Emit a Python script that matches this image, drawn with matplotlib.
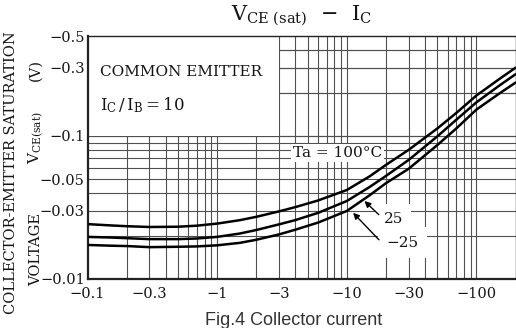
import numpy as np
import matplotlib
matplotlib.use("Agg")
import matplotlib.pyplot as plt
from matplotlib.patches import Rectangle
from matplotlib.ticker import FixedLocator, NullLocator

# collector current (A, shown with minus sign) and VCE(sat) (V)
ic = [0.1, 0.15, 0.2, 0.3, 0.5, 0.7, 1, 1.5, 2, 3, 4, 6, 10, 15, 20, 30, 50, 70, 100, 150, 200]
vce_100 = [0.0242, 0.0237, 0.0234, 0.0231, 0.0232, 0.0236, 0.0244, 0.0258, 0.0272, 0.0297, 0.0318,
           0.0354, 0.0419, 0.0522, 0.0627, 0.0800, 0.113, 0.145, 0.192, 0.250, 0.300]
vce_25 = [0.0197, 0.0195, 0.0193, 0.0190, 0.0190, 0.0192, 0.0197, 0.0208, 0.0220, 0.0241, 0.0258,
          0.0290, 0.0351, 0.0440, 0.0525, 0.0680, 0.0995, 0.130, 0.172, 0.225, 0.270]
vce_m25 = [0.0173, 0.0171, 0.0170, 0.0167, 0.0168, 0.0169, 0.0172, 0.0179, 0.0188, 0.0205, 0.0221,
           0.0248, 0.0299, 0.0385, 0.0467, 0.0590, 0.0865, 0.113, 0.153, 0.198, 0.236]

x_ticks = [0.1, 0.3, 1, 3, 10, 30, 100]
x_labels = ["\u22120.1", "\u22120.3", "\u22121", "\u22123", "\u221210", "\u221230", "\u2212100"]
y_ticks = [0.01, 0.03, 0.05, 0.1, 0.3, 0.5]
y_labels = ["\u22120.01", "\u22120.03", "\u22120.05", "\u22120.1", "\u22120.3", "\u22120.5"]

plt.rcParams['font.family'] = ['DejaVu Serif']
plt.rcParams['mathtext.fontset'] = 'dejavuserif'
ink = '#151515'

fig = plt.figure(figsize=(5.16, 3.28), dpi=100)
ax = fig.add_axes([87.5 / 516, 49 / 328, 428 / 516, 243 / 328])
ax.set_xscale('log')
ax.set_yscale('log')
ax.set_xlim(0.1, 200)
ax.set_ylim(0.01, 0.5)

# grid lines (1..9 in each decade)
gx = [m * 10.0 ** e for e in range(-1, 3) for m in range(1, 10)]
gy = [m * 10.0 ** e for e in range(-2, 0) for m in range(1, 10)] + [0.1, 0.2, 0.3, 0.4]
for v in gx:
    if 0.1 < v < 200:
        ax.axvline(v, color='#505050', lw=0.8, zorder=0.5)
for v in gy:
    if 0.01 < v < 0.5:
        ax.axhline(v, color='#505050', lw=0.8, zorder=0.5)

# blank panel for the notes in the upper left
ax.add_patch(Rectangle((0, 0.5886), 0.4475, 0.4114, transform=ax.transAxes,
                       facecolor='white', edgecolor='none', zorder=1))

for ys in (vce_100, vce_25, vce_m25):
    ax.plot(ic, ys, color='black', lw=1.8, zorder=3, solid_capstyle='round', solid_joinstyle='round')

ax.xaxis.set_major_locator(FixedLocator(x_ticks))
ax.xaxis.set_minor_locator(NullLocator())
ax.set_xticklabels(x_labels)
ax.yaxis.set_major_locator(FixedLocator(y_ticks))
ax.yaxis.set_minor_locator(NullLocator())
ax.set_yticklabels(y_labels)
ax.tick_params(length=0, labelsize=10.5, labelcolor=ink)
ax.tick_params(axis='x', pad=6)
ax.tick_params(axis='y', pad=2)
for s in ax.spines.values():
    s.set_color('#222222')
    s.set_linewidth(1.0)
ax.spines['left'].set_linewidth(1.6)
ax.spines['bottom'].set_linewidth(1.6)

ax.text(0.029, 0.852, "COMMON EMITTER", transform=ax.transAxes, fontsize=11,
        color=ink, va='center', ha='left', zorder=4)
ax.text(0.029, 0.716, r"$\mathrm{I_C\,/\,I_B = 10}$", transform=ax.transAxes,
        fontsize=12, color=ink, va='center', ha='left', zorder=4)

ax.text(8.45, 0.0761, "Ta = 100\u00b0C", fontsize=11, color=ink, ha='center', va='center',
        zorder=4, bbox=dict(facecolor='white', edgecolor='none', pad=1.5))
ax.text(22.8, 0.0263, "25", fontsize=11, color=ink, ha='center', va='center', zorder=4,
        bbox=dict(facecolor='white', edgecolor='none', pad=6))
ax.text(26.7, 0.0179, "\u221225", fontsize=11, color=ink, ha='center', va='center', zorder=4,
        bbox=dict(facecolor='white', edgecolor='none', pad=6))
ax.annotate('', xy=(13.2, 0.0362), xytext=(18.3, 0.0273),
            arrowprops=dict(arrowstyle='-|>', color='black', lw=1.0, mutation_scale=9), zorder=5)
ax.annotate('', xy=(10.8, 0.0300), xytext=(18.3, 0.0182),
            arrowprops=dict(arrowstyle='-|>', color='black', lw=1.0, mutation_scale=9), zorder=5)

fig.text(301 / 516, 1 - 16 / 328, r"$\mathrm{V_{CE\ (sat)}}$  " + "\u2212" + r"  $\mathrm{I_C}$",
         fontsize=15, color=ink, ha='center', va='center')

fig.text(11 / 516, 1 - 173 / 328, "COLLECTOR-EMITTER SATURATION", rotation=90,
         fontsize=10.5, color=ink, ha='center', va='center')
fig.text(36 / 516, 1 - 249 / 328, "VOLTAGE", rotation=90,
         fontsize=10.5, color=ink, ha='center', va='center')
fig.text(36 / 516, 1 - 138 / 328, r"$\mathrm{V_{CE(sat)}}$", rotation=90,
         fontsize=11, color=ink, ha='center', va='center')
fig.text(36 / 516, 1 - 70 / 328, "(V)", rotation=90,
         fontsize=10.5, color=ink, ha='center', va='center')

fig.text(294 / 516, 1 - 312 / 328, "Fig.4 Collector current", family='Liberation Sans',
         fontsize=13, color='#333333', ha='center', va='top')

fig.savefig("out.png", dpi=100)
